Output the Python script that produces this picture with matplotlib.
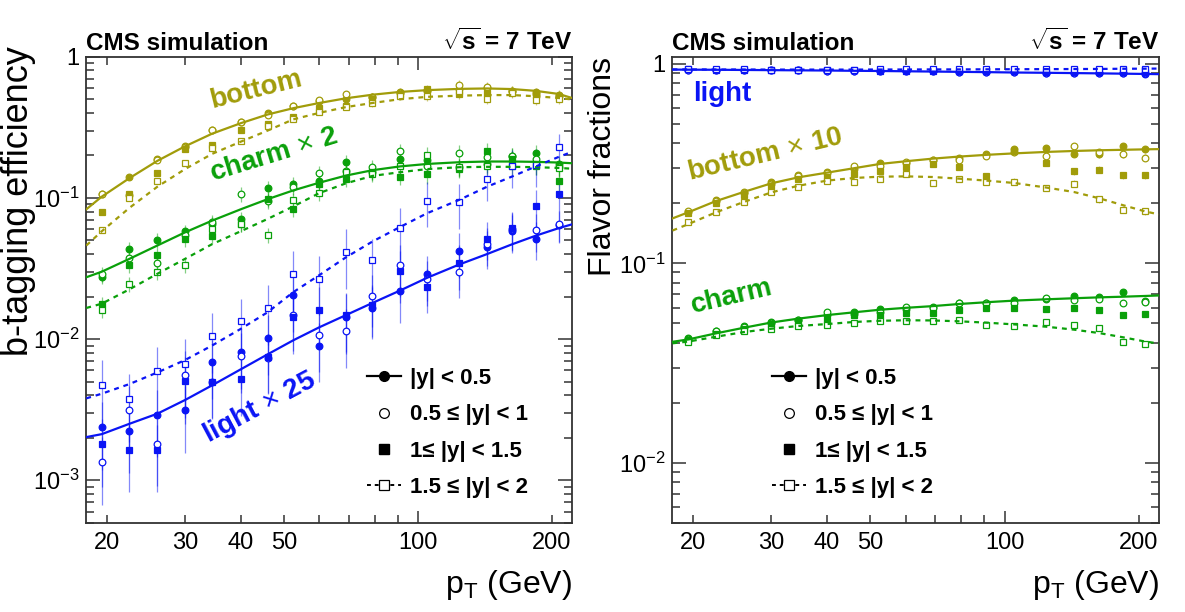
import matplotlib
matplotlib.use("Agg")
import matplotlib.pyplot as plt
from matplotlib.lines import Line2D
from matplotlib.ticker import FixedLocator, FixedFormatter

plt.rcParams['font.family'] = ['Liberation Sans', 'DejaVu Sans']
plt.rcParams['mathtext.fontset'] = 'custom'
plt.rcParams['mathtext.rm'] = 'Liberation Sans'
plt.rcParams['mathtext.bf'] = 'Liberation Sans:bold'
plt.rcParams['mathtext.it'] = 'Liberation Sans:italic'

# jet pT bin centres (GeV) and the grid the fitted curves are given on
pt = [19.5, 22.5, 26, 30, 34.5, 40, 46, 52.5, 60, 69, 79, 91, 105, 124, 143, 163, 184, 207]
pt_fit = [18, 19.5, 22.5, 26, 30, 34.5, 40, 46, 52.5, 60, 69, 79, 91, 105, 124, 143, 163, 184, 207, 222]

# ---- b-tagging efficiency (values as drawn: charm x2, light x25) ----
# rapidity bins: y0 |y|<0.5, y1 0.5-1, y2 1-1.5, y3 1.5-2
eff_b_y0 = [0.107, 0.140, 0.190, 0.235, 0.302, 0.346, 0.399, 0.445, 0.488, 0.504, 0.518, 0.562, 0.578, 0.593, 0.600, 0.574, 0.560, 0.535]
eff_b_y1 = [0.107, 0.104, 0.186, 0.231, 0.302, 0.346, 0.388, 0.450, 0.495, 0.541, 0.520, 0.555, 0.575, 0.630, 0.610, 0.574, 0.545, 0.530]
eff_b_y2 = [0.080, 0.107, 0.150, 0.222, 0.237, 0.304, 0.333, 0.372, 0.430, 0.447, 0.500, 0.547, 0.587, 0.547, 0.550, 0.560, 0.535, 0.520]
eff_b_y3 = [0.059, 0.100, 0.132, 0.176, 0.225, 0.254, 0.324, 0.360, 0.404, 0.440, 0.472, 0.524, 0.524, 0.568, 0.504, 0.550, 0.493, 0.500]
eff_b_fit0 = [0.083, 0.102, 0.138, 0.183, 0.232, 0.285, 0.338, 0.390, 0.432, 0.470, 0.508, 0.538, 0.563, 0.580, 0.592, 0.596, 0.590, 0.573, 0.545, 0.510]
eff_b_fit3 = [0.046, 0.058, 0.085, 0.120, 0.160, 0.205, 0.250, 0.300, 0.360, 0.400, 0.440, 0.470, 0.500, 0.520, 0.530, 0.535, 0.535, 0.525, 0.510, 0.498]
eff_b_err = [0.03, 0.03, 0.03, 0.03, 0.03, 0.04, 0.04, 0.04, 0.05, 0.05, 0.06, 0.06, 0.08, 0.08, 0.08, 0.08, 0.08, 0.08]

eff_c_y0 = [0.0277, 0.0433, 0.0505, 0.0578, 0.0652, 0.0707, 0.117, 0.1253, 0.132, 0.179, 0.152, 0.188, 0.185, 0.1646, 0.175, 0.197, 0.2086, 0.175]
eff_c_y1 = [0.029, 0.0378, 0.0345, 0.055, 0.068, 0.107, 0.095, 0.120, 0.150, 0.156, 0.1646, 0.2164, 0.167, 0.2064, 0.195, 0.197, 0.190, 0.165]
eff_c_y2 = [0.0178, 0.0335, 0.0393, 0.0510, 0.0538, 0.0652, 0.098, 0.0832, 0.126, 0.136, 0.153, 0.140, 0.147, 0.160, 0.2164, 0.190, 0.170, 0.131]
eff_c_y3 = [0.0160, 0.0244, 0.0299, 0.0335, 0.060, 0.065, 0.0544, 0.0965, 0.108, 0.152, 0.147, 0.168, 0.202, 0.165, 0.168, 0.1686, 0.1686, 0.163]
eff_c_fit0 = [0.0274, 0.030, 0.037, 0.046, 0.057, 0.069, 0.083, 0.098, 0.113, 0.128, 0.144, 0.157, 0.167, 0.174, 0.179, 0.181, 0.181, 0.180, 0.178, 0.176]
eff_c_fit3 = [0.0166, 0.0178, 0.0225, 0.029, 0.037, 0.047, 0.058, 0.071, 0.087, 0.108, 0.127, 0.143, 0.152, 0.160, 0.165, 0.166, 0.166, 0.165, 0.163, 0.161]
eff_c_err = [0.12, 0.12, 0.12, 0.12, 0.12, 0.12, 0.12, 0.12, 0.12, 0.12, 0.12, 0.12, 0.14, 0.14, 0.14, 0.14, 0.14, 0.14]

eff_l_y0 = [0.00237, 0.00225, 0.00292, 0.00312, 0.00684, 0.00809, 0.01016, 0.0204, 0.0090, 0.0143, 0.0167, 0.0218, 0.0288, 0.0419, 0.0449, 0.058, 0.0515, 0.064]
eff_l_y1 = [0.00134, 0.00312, 0.00181, 0.00553, 0.00497, 0.00757, 0.0074, 0.0149, 0.0106, 0.01134, 0.0202, 0.0333, 0.0265, 0.0299, 0.0469, 0.060, 0.059, 0.065]
eff_l_y2 = [0.00180, 0.00165, 0.00165, 0.00501, 0.0050, 0.00518, 0.0075, 0.0143, 0.0160, 0.0147, 0.01734, 0.0302, 0.0234, 0.0343, 0.0515, 0.0607, 0.0873, 0.106]
eff_l_y3 = [0.00470, 0.00374, 0.0059, 0.00662, 0.0105, 0.01335, 0.0166, 0.0291, 0.0268, 0.0414, 0.0366, 0.0607, 0.0958, 0.0933, 0.136, 0.1686, 0.170, 0.228]
eff_l_fit0 = [0.00202, 0.00212, 0.00251, 0.00296, 0.0037, 0.0047, 0.0061, 0.0078, 0.0098, 0.0121, 0.0148, 0.018, 0.022, 0.0272, 0.0338, 0.040, 0.047, 0.054, 0.061, 0.065]
eff_l_fit3 = [0.0038, 0.0041, 0.0048, 0.0058, 0.0071, 0.009, 0.0118, 0.0155, 0.0215, 0.0283, 0.038, 0.049, 0.062, 0.078, 0.097, 0.120, 0.142, 0.167, 0.195, 0.212]
eff_l_err = [0.5, 0.5, 0.5, 0.5, 0.45, 0.45, 0.45, 0.45, 0.45, 0.45, 0.4, 0.4, 0.35, 0.35, 0.3, 0.3, 0.3, 0.25]

# ---- flavor fractions (bottom drawn x10) ----
frac_b_y0 = [0.1804, 0.208, 0.2273, 0.255, 0.2788, 0.286, 0.296, 0.3177, 0.318, 0.328, 0.336, 0.3537, 0.3748, 0.379, 0.354, 0.352, 0.388, 0.3734]
frac_b_y1 = [0.183, 0.205, 0.225, 0.250, 0.275, 0.283, 0.309, 0.306, 0.324, 0.330, 0.330, 0.344, 0.360, 0.347, 0.386, 0.360, 0.352, 0.339]
frac_b_y2 = [0.178, 0.200, 0.219, 0.245, 0.265, 0.270, 0.279, 0.289, 0.3057, 0.316, 0.303, 0.2756, 0.367, 0.3188, 0.2897, 0.295, 0.2765, 0.2765]
frac_b_y3 = [0.162, 0.1804, 0.2025, 0.227, 0.2407, 0.260, 0.255, 0.265, 0.2807, 0.253, 0.265, 0.257, 0.257, 0.2388, 0.251, 0.2097, 0.186, 0.183]
frac_b_fit0 = [0.168, 0.180, 0.205, 0.228, 0.252, 0.270, 0.285, 0.300, 0.315, 0.325, 0.335, 0.343, 0.350, 0.356, 0.362, 0.366, 0.369, 0.371, 0.373, 0.374]
frac_b_fit3 = [0.146, 0.157, 0.180, 0.203, 0.227, 0.245, 0.260, 0.268, 0.272, 0.273, 0.271, 0.266, 0.260, 0.253, 0.240, 0.228, 0.212, 0.196, 0.182, 0.176]
frac_b_err = [0.02, 0.02, 0.02, 0.02, 0.02, 0.02, 0.02, 0.02, 0.03, 0.03, 0.03, 0.03, 0.04, 0.04, 0.04, 0.04, 0.04, 0.04]

frac_c_y0 = [0.0420, 0.0458, 0.0485, 0.0508, 0.0522, 0.0549, 0.0571, 0.0587, 0.0590, 0.0607, 0.0636, 0.0636, 0.0653, 0.0659, 0.0684, 0.0674, 0.0716, 0.0650]
frac_c_y1 = [0.0418, 0.0460, 0.0480, 0.0500, 0.0520, 0.0571, 0.0560, 0.0570, 0.0604, 0.0600, 0.0630, 0.0630, 0.0630, 0.0670, 0.0653, 0.0660, 0.0633, 0.0639]
frac_c_y2 = [0.0413, 0.0443, 0.0467, 0.0494, 0.0515, 0.0522, 0.0553, 0.0549, 0.0566, 0.0566, 0.0582, 0.0600, 0.0598, 0.0590, 0.0600, 0.0582, 0.0549, 0.0560]
frac_c_y3 = [0.0404, 0.0439, 0.0458, 0.0471, 0.0484, 0.0489, 0.0502, 0.0514, 0.0514, 0.0514, 0.0517, 0.0493, 0.0484, 0.0508, 0.0489, 0.0474, 0.0403, 0.0392]
frac_c_fit0 = [0.0404, 0.0415, 0.0445, 0.0475, 0.0505, 0.0528, 0.055, 0.0568, 0.0585, 0.0598, 0.061, 0.0625, 0.0638, 0.065, 0.066, 0.0668, 0.0675, 0.068, 0.0686, 0.069]
frac_c_fit3 = [0.0397, 0.0405, 0.0428, 0.0452, 0.047, 0.0485, 0.0496, 0.0508, 0.0515, 0.0518, 0.0517, 0.0512, 0.0504, 0.0494, 0.0481, 0.0465, 0.0447, 0.0426, 0.0405, 0.0396]
frac_c_err = [0.02, 0.02, 0.02, 0.02, 0.02, 0.02, 0.02, 0.02, 0.02, 0.02, 0.02, 0.02, 0.03, 0.03, 0.03, 0.03, 0.03, 0.03]

frac_l_y0 = [0.936, 0.935, 0.933, 0.931, 0.929, 0.927, 0.925, 0.922, 0.920, 0.917, 0.914, 0.911, 0.907, 0.904, 0.901, 0.899, 0.896, 0.893]
frac_l_y1 = [0.936, 0.934, 0.933, 0.931, 0.929, 0.926, 0.924, 0.922, 0.919, 0.917, 0.913, 0.911, 0.908, 0.905, 0.902, 0.900, 0.898, 0.896]
frac_l_y2 = [0.938, 0.936, 0.935, 0.933, 0.932, 0.930, 0.928, 0.926, 0.924, 0.922, 0.920, 0.918, 0.917, 0.914, 0.912, 0.911, 0.909, 0.909]
frac_l_y3 = [0.939, 0.938, 0.938, 0.937, 0.937, 0.937, 0.937, 0.938, 0.938, 0.939, 0.939, 0.940, 0.941, 0.942, 0.943, 0.945, 0.946, 0.947]
frac_l_fit0 = [0.937, 0.936, 0.935, 0.933, 0.931, 0.929, 0.927, 0.924, 0.922, 0.919, 0.916, 0.913, 0.910, 0.906, 0.903, 0.900, 0.897, 0.894, 0.891, 0.889]
frac_l_fit3 = [0.939, 0.939, 0.938, 0.938, 0.937, 0.937, 0.937, 0.937, 0.938, 0.938, 0.939, 0.939, 0.940, 0.941, 0.942, 0.943, 0.944, 0.946, 0.947, 0.948]
frac_l_err = [0.004] * 18

legend_labels = ['|y| < 0.5', '0.5 \u2264 |y| < 1', '1\u2264 |y| < 1.5', '1.5 \u2264 |y| < 2']

c_bottom = '#a19c0a'
c_charm = '#0aa00a'
c_light = '#0a14f5'

markers = [('o', True), ('o', False), ('s', True), ('s', False)]


def draw_flavor(ax, color, series, fit0, fit3, err):
    for (m, filled), vals in zip(markers, series):
        bar = [v * e for v, e in zip(vals, err)]
        ax.errorbar(pt, vals, yerr=[bar, bar], fmt='none', ecolor=color,
                    elinewidth=0.9, alpha=0.5, zorder=2)
        ax.plot(pt, vals, ls='none', marker=m, ms=4.8,
                mfc=color if filled else 'white', mec=color,
                mew=0.9, zorder=3)
    ax.plot(pt_fit, fit0, '-', color=color, lw=1.6, zorder=4)
    ax.plot(pt_fit, fit3, color=color, lw=1.6, ls=(0, (2.2, 2.2)), zorder=4)


def style_axes(ax, ymin, ymax, ymajor, ylabels):
    ax.set_xscale('log')
    ax.set_yscale('log')
    ax.set_xlim(18, 222)
    ax.set_ylim(ymin, ymax)
    ax.xaxis.set_major_locator(FixedLocator([100]))
    ax.xaxis.set_major_formatter(FixedFormatter(['100']))
    ax.xaxis.set_minor_locator(FixedLocator([20, 30, 40, 50, 60, 70, 80, 90, 200]))
    ax.xaxis.set_minor_formatter(FixedFormatter(['20', '30', '40', '50', '', '', '', '', '200']))
    ax.yaxis.set_major_locator(FixedLocator(ymajor))
    ax.yaxis.set_major_formatter(FixedFormatter(ylabels))
    yminor = [k * 10.0 ** d for d in range(-4, 1) for k in range(2, 10)]
    ax.yaxis.set_minor_locator(FixedLocator(yminor))
    ax.yaxis.set_minor_formatter(FixedFormatter([''] * len(yminor)))
    ax.tick_params(which='both', direction='in', top=True, right=True,
                   labelsize=17, width=1.1, color='#333333')
    ax.tick_params(axis='x', which='major', length=9, pad=7)
    ax.tick_params(axis='x', which='minor', length=5.5, pad=7)
    ax.tick_params(axis='y', which='major', length=10, pad=5)
    ax.tick_params(axis='y', which='minor', length=5.5)
    for s in ax.spines.values():
        s.set_linewidth(1.3)
        s.set_color('#333333')
    ax.set_xlabel('p$_{\\mathrm{T}}$ (GeV)', fontsize=23, loc='right', labelpad=10)
    ax.text(0.0, 1.014, 'CMS simulation', transform=ax.transAxes,
            fontsize=17.5, fontweight='bold', ha='left', va='baseline')
    ax.text(1.0, 1.014, r'$\mathbf{\sqrt{s}}$ = 7 TeV', transform=ax.transAxes,
            fontsize=17.5, fontweight='bold', ha='right', va='baseline')
    handles = [
        Line2D([], [], color='black', ls='-', lw=1.6, marker='o', ms=7),
        Line2D([], [], color='black', ls='none', marker='o', ms=7, mfc='white', mew=0.9),
        Line2D([], [], color='black', ls='none', marker='s', ms=6.5),
        Line2D([], [], color='black', ls=(0, (2, 2)), lw=1.4, marker='s', ms=6.5, mfc='white', mew=0.9),
    ]
    return handles


def add_legend(ax, handles, x0):
    ax.legend(handles, legend_labels, loc='upper left', bbox_to_anchor=(x0, 0.332),
              frameon=False, prop={'size': 16, 'weight': 'bold'}, handlelength=1.55,
              handletextpad=0.4, labelspacing=0.69, borderpad=0, borderaxespad=0)


fig = plt.figure(figsize=(11.85, 6.12), dpi=100)
ax1 = fig.add_axes([0.0728, 0.1459, 0.4100, 0.7614])
ax2 = fig.add_axes([0.5675, 0.1459, 0.4105, 0.7614])

# left: efficiencies
draw_flavor(ax1, c_bottom, [eff_b_y0, eff_b_y1, eff_b_y2, eff_b_y3], eff_b_fit0, eff_b_fit3, eff_b_err)
draw_flavor(ax1, c_charm, [eff_c_y0, eff_c_y1, eff_c_y2, eff_c_y3], eff_c_fit0, eff_c_fit3, eff_c_err)
draw_flavor(ax1, c_light, [eff_l_y0, eff_l_y1, eff_l_y2, eff_l_y3], eff_l_fit0, eff_l_fit3, eff_l_err)
h = style_axes(ax1, 5e-4, 1.0, [1e-3, 1e-2, 1e-1, 1], ['10$^{-3}$', '10$^{-2}$', '10$^{-1}$', '1'])
ax1.set_ylabel('b-tagging efficiency', fontsize=26, loc='top')
ax1.yaxis.set_label_coords(-0.104, 1.022)
ax1.text(0.2596, 0.890, 'bottom', transform=ax1.transAxes, color=c_bottom, fontsize=20,
         fontweight='bold', rotation=14, rotation_mode='anchor', ha='left', va='baseline')
ax1.text(0.259, 0.733, 'charm$\\,\\times\\,$2', transform=ax1.transAxes, color=c_charm, fontsize=20,
         fontweight='bold', rotation=17, rotation_mode='anchor', ha='left', va='baseline')
ax1.text(0.2517, 0.171, 'light$\\,\\times\\,$25', transform=ax1.transAxes, color=c_light, fontsize=20,
         fontweight='bold', rotation=28, rotation_mode='anchor', ha='left', va='baseline')
add_legend(ax1, h, 0.577)

# right: flavour fractions
draw_flavor(ax2, c_bottom, [frac_b_y0, frac_b_y1, frac_b_y2, frac_b_y3], frac_b_fit0, frac_b_fit3, frac_b_err)
draw_flavor(ax2, c_charm, [frac_c_y0, frac_c_y1, frac_c_y2, frac_c_y3], frac_c_fit0, frac_c_fit3, frac_c_err)
draw_flavor(ax2, c_light, [frac_l_y0, frac_l_y1, frac_l_y2, frac_l_y3], frac_l_fit0, frac_l_fit3, frac_l_err)
h = style_axes(ax2, 5e-3, 1.087, [1e-2, 1e-1, 1], ['10$^{-2}$', '10$^{-1}$', '1'])
ax2.set_ylabel('Flavor fractions', fontsize=23, loc='top')
ax2.yaxis.set_label_coords(-0.111, 1.0)
ax2.text(0.0415, 0.904, 'light', transform=ax2.transAxes, color=c_light, fontsize=20,
         fontweight='bold', ha='left', va='baseline')
ax2.text(0.0345, 0.7348, 'bottom$\\,\\times\\,$10', transform=ax2.transAxes, color=c_bottom, fontsize=20,
         fontweight='bold', rotation=13.4, rotation_mode='anchor', ha='left', va='baseline')
ax2.text(0.0415, 0.449, 'charm', transform=ax2.transAxes, color=c_charm, fontsize=20,
         fontweight='bold', rotation=13.2, rotation_mode='anchor', ha='left', va='baseline')
add_legend(ax2, h, 0.204)

fig.savefig('out.png', dpi=100)
